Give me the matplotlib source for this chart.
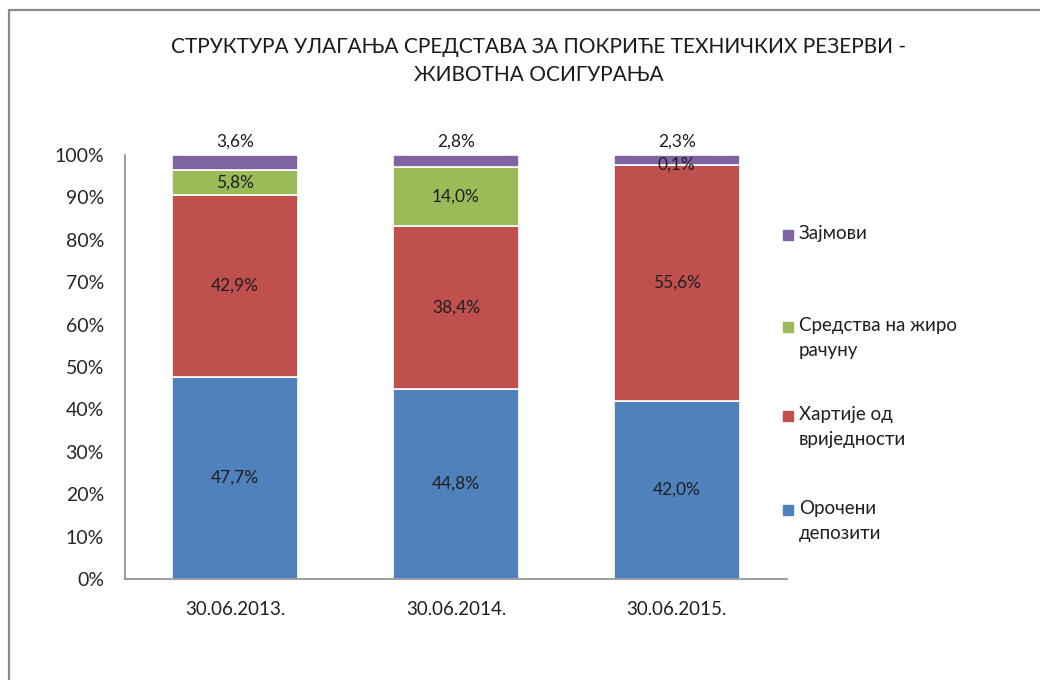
import matplotlib
matplotlib.use("Agg")
import matplotlib.pyplot as plt
from matplotlib.lines import Line2D
from matplotlib.patches import Rectangle
import numpy as np

plt.rcParams['font.family'] = ['Lato', 'DejaVu Sans']

# data
dates = ['30.06.2013.', '30.06.2014.', '30.06.2015.']
series = ['Орочени депозити', 'Хартије од вриједности',
          'Средства на жиро рачуну', 'Зајмови']
legend_labels = ['Орочени\nдепозити', 'Хартије од\nвриједности',
                 'Средства на жиро\nрачуну', 'Зајмови']
orocheni = [47.7, 44.8, 42.0]
hartije = [42.9, 38.4, 55.6]
ziro = [5.8, 14.0, 0.1]
zajmovi = [3.6, 2.8, 2.3]
colors = ['#4F81BD', '#C0504D', '#9BBB59', '#8064A2']

fig = plt.figure(figsize=(10.4, 6.8), dpi=100)
ax = fig.add_axes([0.120, 0.1485, 0.637, 0.6235])

x = np.arange(len(dates))
bottom = np.zeros(len(dates))
vals_all = [orocheni, hartije, ziro, zajmovi]
for i, vals in enumerate(vals_all):
    vals = np.array(vals)
    ax.bar(x, vals, 0.57, bottom=bottom, color=colors[i],
           edgecolor='white', linewidth=1.2, zorder=2)
    for j in range(len(dates)):
        txt = ('%.1f%%' % vals[j]).replace('.', ',')
        if i == 3:
            # top series labels sit above the bar
            ypos = 103.2
        else:
            ypos = bottom[j] + vals[j] / 2
        ax.text(x[j], ypos, txt, ha='center', va='center', fontsize=12.5,
                color='#1f1f1f', clip_on=False, zorder=3)
    bottom = bottom + vals

ax.set_xlim(-0.5, 2.5)
ax.set_ylim(0, 100)
ax.set_yticks(np.arange(0, 101, 10))
ax.set_yticklabels(['%d%%' % v for v in range(0, 101, 10)])
ax.set_xticks(x)
ax.set_xticklabels(dates)
ax.tick_params(axis='y', length=0, pad=15, labelsize=14, labelcolor='#262626')
ax.tick_params(axis='x', length=0, pad=16, labelsize=13.5, labelcolor='#1f1f1f')
for s in ['top', 'right']:
    ax.spines[s].set_visible(False)
ax.spines['left'].set_color('#8c8c8c')
ax.spines['bottom'].set_color('#8c8c8c')
ax.spines['left'].set_linewidth(1.2)
ax.spines['bottom'].set_linewidth(1.2)

fig.text(0.518, 0.931, 'СТРУКТУРА УЛАГАЊА СРЕДСТАВА ЗА ПОКРИЋЕ ТЕХНИЧКИХ РЕЗЕРВИ -',
         ha='center', va='center', fontsize=15, color='#1a1a1a')
fig.text(0.518, 0.890, 'ЖИВОТНА ОСИГУРАЊА',
         ha='center', va='center', fontsize=15, color='#1a1a1a')

# legend, top entry first
leg_y = [235, 327, 416, 510]
order = [3, 2, 1, 0]
for k, i in enumerate(order):
    yy = 1 - leg_y[k] / 680
    fig.patches.append(Rectangle((783 / 1040, yy - 5 / 680), 10 / 1040, 10 / 680,
                                 transform=fig.transFigure, color=colors[i]))
    fig.text(799 / 1040, yy + 10 / 680, legend_labels[i], ha='left', va='top',
             fontsize=13.5, color='#1f1f1f', linespacing=1.55)

# outer frame (top and left visible)
fx = 9 / 1040
fy = 1 - 10 / 680
fig.lines.append(Line2D([fx, fx, 1], [0, fy, fy], transform=fig.transFigure,
                        color='#8a8a8a', linewidth=1.6))

fig.savefig('out.png', dpi=100, facecolor='white')
